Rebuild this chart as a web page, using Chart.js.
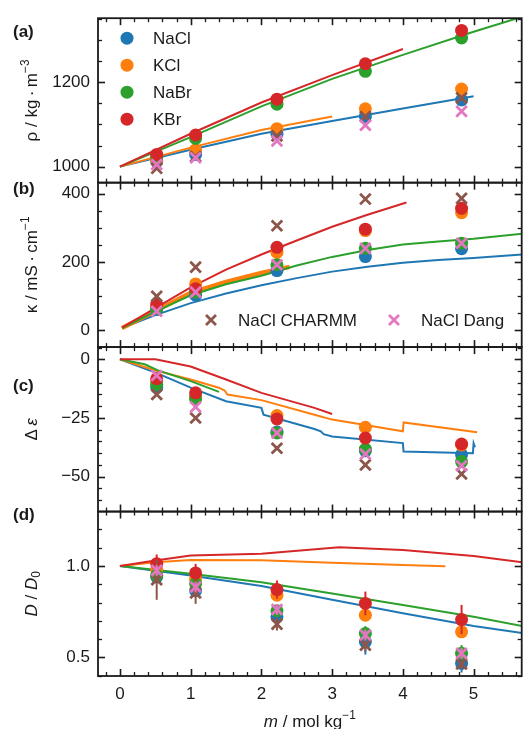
<!DOCTYPE html>
<html lang="en">
<head>
  <meta charset="UTF-8" />
  <title>Electrolyte properties</title>
  <script src="https://cdn.jsdelivr.net/npm/chart.js"></script>
  <style>
    html, body { margin: 0; padding: 0; background: #fff; }
    canvas { display: block; }
  </style>
</head>
<body>
  <canvas id="chart" width="532" height="729" style="width:532px;height:729px"></canvas>

  <script>
    // ---- data ----
    const salts = ['NaCl', 'KCl', 'NaBr', 'KBr'];
    const models = ['NaCl CHARMM', 'NaCl Dang'];
    const molality = [0.52, 1.07, 2.22, 3.47, 4.83];

    // x ticks
    const xTicks = [0, 1, 2, 3, 4, 5];

    // (a) density, kg m^-3
    const rhoTicks = [1000, 1200];
    const rhoNaCl = [1012, 1029, 1077, 1119, 1158];
    const rhoKCl = [1016, 1040, 1090, 1137, 1184];
    const rhoNaBr = [1022, 1067, 1148, 1226, 1305];
    const rhoKBr = [1029, 1075, 1160, 1244, 1323];
    const rhoCharmm = [996, 1024, 1073, 1119, 1163];
    const rhoDang = [1005, 1021, 1061, 1098, 1131];
    const rhoLineMNaCl = [0, 1, 2, 3, 4, 5];
    const rhoLineNaCl = [1000, 1040, 1078, 1108, 1138, 1167];
    const rhoLineMKCl = [0, 1, 2, 3];
    const rhoLineKCl = [1000, 1045, 1087, 1119];
    const rhoLineMNaBr = [0, 1, 2, 3, 4, 5, 5.7];
    const rhoLineNaBr = [1000, 1070, 1143, 1208, 1265, 1320, 1356];
    const rhoLineMKBr = [0, 1, 2, 3, 4];
    const rhoLineKBr = [1000, 1078, 1152, 1217, 1279];

    // (b) conductivity, mS cm^-1
    const kappaTicks = [0, 200, 400];
    const kappaNaCl = [61, 103, 175, 216, 239];
    const kappaKCl = [70, 136, 228, 292, 344];
    const kappaNaBr = [64, 112, 192, 240, 255];
    const kappaKBr = [76, 122, 243, 296, 357];
    const kappaCharmm = [100, 185, 306, 384, 386];
    const kappaDang = [56, 112, 192, 240, 255];
    const kappaLineMNaCl = [0.03, 0.5, 1, 1.5, 2, 2.5, 3, 3.5, 4, 4.5, 5, 5.7];
    const kappaLineNaCl = [7, 45, 80, 108, 132, 153, 172, 186, 198, 206, 212, 222];
    const kappaLineMKCl = [0.03, 0.5, 1, 1.5, 2, 2.4];
    const kappaLineKCl = [7, 57, 110, 142, 168, 186];
    const kappaLineMNaBr = [0.03, 0.5, 1, 1.5, 2, 2.5, 3, 3.5, 4, 4.5, 5, 5.7];
    const kappaLineNaBr = [7, 55, 103, 135, 160, 190, 215, 235, 251, 260, 268, 283];
    const kappaLineMKBr = [0.03, 0.5, 1, 1.5, 2, 2.5, 3, 3.5, 4.05];
    const kappaLineKBr = [8, 65, 126, 178, 222, 263, 303, 338, 374];

    // (c) dielectric decrement
    const epsTicks = [-50, -25, 0];
    const epsNaCl = [-12, -16, -31, -39, -40.7];
    const epsKCl = [-9.5, -16.4, -24, -29, -36.5];
    const epsNaBr = [-10.7, -16.9, -31.4, -38.3, -43.6];
    const epsKBr = [-8.3, -14.3, -25.4, -33.6, -36.1];
    const epsCharmm = [-15, -25, -37.9, -45, -48.9];
    const epsDang = [-6.9, -20.3, -31.4, -40.4, -45.4];
    const epsLineMNaCl = [0, 0.53, 1.0, 1.5, 2.0, 2.03, 2.75, 2.84, 2.88, 3.0, 4.0, 4.01, 4.99, 5.0, 5.02];
    const epsLineNaCl = [0, -6, -12.1, -17.9, -20.7, -23.6, -29.7, -30.7, -31.9, -32.9, -35.7, -39.3, -40, -35.8, -37.5];
    const epsLineMKCl = [0, 0.53, 1.0, 1.4, 1.48, 1.52, 2.0, 2.75, 3.0, 4.0, 4.01, 5.05];
    const epsLineKCl = [0, -5, -8.6, -12.1, -13.3, -15, -17.4, -23.6, -25.7, -30.7, -26.9, -31.1];
    const epsLineMNaBr = [0, 0.35, 0.53, 1.0, 1.4];
    const epsLineNaBr = [0, -2.1, -4.6, -9.3, -13.9];
    const epsLineMKBr = [0, 0.5, 1.0, 1.5, 2.0, 2.75, 3.0];
    const epsLineKBr = [0, 0, -3.1, -8.6, -14.3, -20.7, -23.3];

    // (d) diffusion D/D0 with error bars
    const diffTicks = [0.5, 1.0];
    const diffNaCl = [0.94, 0.864, 0.722, 0.585, 0.467];
    const diffKCl = [0.98, 0.931, 0.84, 0.731, 0.64];
    const diffNaBr = [0.949, 0.904, 0.755, 0.631, 0.522];
    const diffKBr = [1.013, 0.962, 0.871, 0.795, 0.707];
    const diffCharmm = [0.925, 0.853, 0.682, 0.567, 0.464];
    const diffDang = [0.976, 0.885, 0.762, 0.622, 0.522];
    const diffErrNaCl = [0.03, 0.03, 0.03, 0.07, 0.05];
    const diffErrKCl = [0.06, 0.06, 0.03, 0.03, 0.03];
    const diffErrNaBr = [0.03, 0.03, 0.03, 0.04, 0.045];
    const diffErrKBr = [0.05, 0.05, 0.05, 0.065, 0.08];
    const diffErrCharmm = [0.11, 0.06, 0.035, 0.035, 0.03];
    const diffErrDang = [0.03, 0.03, 0.03, 0.03, 0.03];
    const diffLineMNaCl = [0, 1, 2, 3, 4, 5, 5.7];
    const diffLineNaCl = [1.0, 0.948, 0.89, 0.815, 0.742, 0.672, 0.632];
    const diffLineMKCl = [0, 0.5, 1, 2, 3, 4, 4.6];
    const diffLineKCl = [1.0, 1.02, 1.033, 1.031, 1.018, 1.006, 0.998];
    const diffLineMNaBr = [0, 1, 2, 3, 4, 5, 5.7];
    const diffLineNaBr = [1.0, 0.957, 0.911, 0.85, 0.786, 0.722, 0.671];
    const diffLineMKBr = [0, 0.5, 1, 2, 3.1, 4, 5, 5.7];
    const diffLineKBr = [1.0, 1.03, 1.057, 1.067, 1.103, 1.087, 1.055, 1.02];

    // ---- styling ----
    const FONT = '"Liberation Sans", Arial, sans-serif';
    const INK = '#1a1a1a';
    const saltColors = ['#1f77b4', '#ff7f0e', '#2ca02c', '#d62728'];
    const modelColors = ['#8c564b', '#e377c2'];

    const toXY = (xs, ys) => xs.map((x, i) => ({ x: x, y: ys[i] }));

    const drawList = [];
    function addLine(ms, vs, color, yId, width) {
      drawList.push({
        data: toXY(ms, vs), yAxisID: yId, borderColor: color, backgroundColor: color,
        borderWidth: width || 2, pointRadius: 0, tension: 0, fill: false
      });
    }
    function addMarkers(vs, color, yId, cross, errs) {
      drawList.push({
        data: toXY(molality, vs), yAxisID: yId, showLine: false,
        pointStyle: cross ? 'crossRot' : 'circle',
        pointRadius: cross ? 7.5 : 6.5,
        pointBorderWidth: cross ? 2.8 : 0,
        pointBorderColor: color, pointBackgroundColor: color,
        borderColor: color, backgroundColor: color,
        errors: errs || null
      });
    }

    const panels = [
      { id: 'ya', lines: [[rhoLineMNaCl, rhoLineNaCl], [rhoLineMKCl, rhoLineKCl], [rhoLineMNaBr, rhoLineNaBr], [rhoLineMKBr, rhoLineKBr]],
        marks: [rhoNaCl, rhoKCl, rhoNaBr, rhoKBr], models: [rhoCharmm, rhoDang] },
      { id: 'yb', lines: [[kappaLineMNaCl, kappaLineNaCl], [kappaLineMKCl, kappaLineKCl], [kappaLineMNaBr, kappaLineNaBr], [kappaLineMKBr, kappaLineKBr]],
        marks: [kappaNaCl, kappaKCl, kappaNaBr, kappaKBr], models: [kappaCharmm, kappaDang] },
      { id: 'yc', lines: [[epsLineMNaCl, epsLineNaCl], [epsLineMKCl, epsLineKCl], [epsLineMNaBr, epsLineNaBr], [epsLineMKBr, epsLineKBr]],
        marks: [epsNaCl, epsKCl, epsNaBr, epsKBr], models: [epsCharmm, epsDang] },
      { id: 'yd', lines: [[diffLineMNaCl, diffLineNaCl], [diffLineMKCl, diffLineKCl], [diffLineMNaBr, diffLineNaBr], [diffLineMKBr, diffLineKBr]],
        marks: [diffNaCl, diffKCl, diffNaBr, diffKBr], models: [diffCharmm, diffDang],
        markErr: [diffErrNaCl, diffErrKCl, diffErrNaBr, diffErrKBr], modelErr: [diffErrCharmm, diffErrDang] }
    ];

    panels.forEach(p => {
      p.lines.forEach((l, i) => addLine(l[0], l[1], saltColors[i], p.id, (p.id === 'yb' && i === 1) ? 4.5 : 2));
      p.marks.forEach((v, i) => addMarkers(v, saltColors[i], p.id, false, p.markErr && p.markErr[i]));
      p.models.forEach((v, i) => addMarkers(v, modelColors[i], p.id, true, p.modelErr && p.modelErr[i]));
    });
    // first in list is drawn first (bottom)
    drawList.forEach((d, i) => { d.order = drawList.length - i; });

    // axis ticks (major labelled, minor step)
    const axisInfo = {
      ya: { min: 962, max: 1352, major: rhoTicks, minorStep: 50, fmt: v => String(v) },
      yb: { min: -48.6, max: 432, major: kappaTicks, minorStep: 50, fmt: v => String(v) },
      yc: { min: -64.9, max: 5.2, major: epsTicks, minorStep: 5, fmt: v => v < 0 ? '\u2212' + Math.abs(v) : String(v) },
      yd: { min: 0.398, max: 1.298, major: diffTicks, minorStep: 0.1, fmt: v => v.toFixed(1) }
    };
    const xInfo = { min: -0.31, max: 5.68, major: xTicks, minorStep: 0.2 };

    function minorValues(min, max, step) {
      const out = [];
      for (let k = Math.ceil(min / step - 1e-9); k * step <= max + 1e-9; k++) out.push(+(k * step).toFixed(6));
      return out;
    }

    function drawRich(ctx, parts, cx, cy, size, rot) {
      ctx.save();
      ctx.translate(cx, cy);
      if (rot) ctx.rotate(rot);
      ctx.textBaseline = 'middle';
      ctx.textAlign = 'left';
      ctx.fillStyle = INK;
      let total = 0;
      const items = parts.map(p => {
        const fs = (p.sup || p.sub) ? size * 0.7 : size;
        const font = (p.it ? 'italic ' : '') + fs + 'px ' + FONT;
        ctx.font = font;
        const w = ctx.measureText(p.t).width;
        total += w;
        return { p: p, font: font, w: w };
      });
      let x = -total / 2;
      items.forEach(it => {
        ctx.font = it.font;
        const dy = it.p.sup ? -size * 0.38 : (it.p.sub ? size * 0.28 : 0);
        ctx.fillText(it.p.t, x, dy);
        x += it.w;
      });
      ctx.restore();
    }

    const yTitles = {
      ya: [{ t: '\u03c1 / kg\u2009\u00b7\u2009m' }, { t: '\u22123', sup: true }],
      yb: [{ t: '\u03ba / mS\u2009\u00b7\u2009cm' }, { t: '\u22121', sup: true }],
      yc: [{ t: '\u0394\u2009' }, { t: '\u03b5', it: true }],
      yd: [{ t: 'D', it: true }, { t: ' / ' }, { t: 'D', it: true }, { t: '0', sub: true }]
    };
    const xTitle = [{ t: 'm', it: true }, { t: ' / mol kg' }, { t: '\u22121', sup: true }];
    const panelLabels = { ya: ['(a)', 14], yb: ['(b)', 7], yc: ['(c)', 39], yd: ['(d)', 4] };

    const framePlugin = {
      id: 'frame',
      beforeDatasetDraw(chart, args) {
        const ds = chart.data.datasets[args.index];
        if (!ds.errors) return;
        const xs = args.meta.xScale, ys = args.meta.yScale, ctx = chart.ctx;
        ctx.save();
        ctx.strokeStyle = ds.borderColor;
        ctx.lineWidth = 2;
        ds.data.forEach((pt, i) => {
          const px = xs.getPixelForValue(pt.x);
          ctx.beginPath();
          ctx.moveTo(px, ys.getPixelForValue(pt.y - ds.errors[i]));
          ctx.lineTo(px, ys.getPixelForValue(pt.y + ds.errors[i]));
          ctx.stroke();
        });
        ctx.restore();
      },
      afterDraw(chart) {
        const ctx = chart.ctx, area = chart.chartArea, xs = chart.scales.x;
        const L = area.left, R = area.right;
        const MAJ = 7, MIN = 4;
        ctx.save();
        ctx.strokeStyle = INK;
        const xMinor = minorValues(xInfo.min, xInfo.max, xInfo.minorStep).filter(v => !xInfo.major.some(m => Math.abs(m - v) < 1e-6));

        Object.keys(axisInfo).forEach(id => {
          const ys = chart.scales[id], info = axisInfo[id];
          const T = ys.top, B = ys.bottom;
          // x ticks on top and bottom of each panel
          const tick = (vals, len, lw) => {
            ctx.lineWidth = lw;
            vals.forEach(v => {
              const px = Math.round(xs.getPixelForValue(v)) + 0.5;
              ctx.beginPath(); ctx.moveTo(px, B); ctx.lineTo(px, B - len); ctx.stroke();
              ctx.beginPath(); ctx.moveTo(px, T); ctx.lineTo(px, T + len); ctx.stroke();
            });
          };
          tick(xInfo.major, MAJ, 1.6);
          tick(xMinor, MIN, 1.3);
          // y ticks left and right
          const yMinor = minorValues(info.min, info.max, info.minorStep).filter(v => !info.major.some(m => Math.abs(m - v) < 1e-6));
          const ytick = (vals, len, lw) => {
            ctx.lineWidth = lw;
            vals.forEach(v => {
              const py = Math.round(ys.getPixelForValue(v)) + 0.5;
              ctx.beginPath(); ctx.moveTo(L, py); ctx.lineTo(L + len, py); ctx.stroke();
              ctx.beginPath(); ctx.moveTo(R, py); ctx.lineTo(R - len, py); ctx.stroke();
            });
          };
          ytick(info.major, MAJ, 1.6);
          ytick(yMinor, MIN, 1.3);
          // frame
          ctx.lineWidth = 1.8;
          ctx.strokeRect(L, T, R - L, B - T);

          // axis title and panel label
          drawRich(ctx, yTitles[id], 32, (T + B) / 2, 17, -Math.PI / 2);
          ctx.fillStyle = INK;
          ctx.font = 'bold 17px ' + FONT;
          ctx.textAlign = 'left';
          ctx.textBaseline = 'middle';
          ctx.fillText(panelLabels[id][0], 13, T + panelLabels[id][1]);
        });

        drawRich(ctx, xTitle, (L + R) / 2, 722, 17, 0);

        // legend (a): salts
        const ya = chart.scales.ya;
        ctx.font = '17px ' + FONT;
        ctx.textBaseline = 'middle';
        ctx.textAlign = 'left';
        salts.forEach((s, i) => {
          const y = ya.top + 20 + 27 * i;
          ctx.fillStyle = saltColors[i];
          ctx.beginPath(); ctx.arc(L + 29, y, 6.5, 0, Math.PI * 2); ctx.fill();
          ctx.fillStyle = INK;
          ctx.fillText(s, L + 55, y + 1);
        });
        // legend (b): models
        const yb = chart.scales.yb;
        const ly = yb.bottom - 27;
        const lx = [L + 113, L + 296];
        models.forEach((s, i) => {
          ctx.strokeStyle = modelColors[i];
          ctx.lineWidth = 2.8;
          const cx = lx[i];
          ctx.beginPath();
          ctx.moveTo(cx - 5, ly - 5); ctx.lineTo(cx + 5, ly + 5);
          ctx.moveTo(cx - 5, ly + 5); ctx.lineTo(cx + 5, ly - 5);
          ctx.stroke();
          ctx.fillStyle = INK;
          ctx.fillText(s, cx + 27, ly + 1);
        });
        ctx.restore();
      }
    };

    function yScale(id) {
      const info = axisInfo[id];
      return {
        type: 'linear', position: 'left', stack: 'panels', stackWeight: 1,
        min: info.min, max: info.max,
        grid: { display: false, drawTicks: false },
        border: { display: false },
        afterBuildTicks: s => { s.ticks = info.major.map(v => ({ value: v })); },
        afterFit: s => { s.width = 98; },
        ticks: { font: { family: FONT, size: 17 }, color: INK, padding: 8, autoSkip: false, callback: v => info.fmt(v) }
      };
    }

    new Chart(document.getElementById('chart'), {
      type: 'line',
      data: { datasets: drawList },
      options: {
        responsive: false,
        animation: false,
        layout: { padding: { top: 17, right: 10, left: 0, bottom: 0 } },
        plugins: { legend: { display: false }, tooltip: { enabled: false } },
        scales: {
          x: {
            type: 'linear', position: 'bottom', min: xInfo.min, max: xInfo.max,
            grid: { display: false, drawTicks: false },
            border: { display: false },
            afterBuildTicks: s => { s.ticks = xTicks.map(v => ({ value: v })); },
            afterFit: s => { s.height = 53; },
            ticks: { font: { family: FONT, size: 17 }, color: INK, padding: 8, maxRotation: 0, autoSkip: false, callback: v => String(v) }
          },
          yd: yScale('yd'),
          yc: yScale('yc'),
          yb: yScale('yb'),
          ya: yScale('ya')
        }
      },
      plugins: [framePlugin]
    });
  </script>
</body>
</html>
